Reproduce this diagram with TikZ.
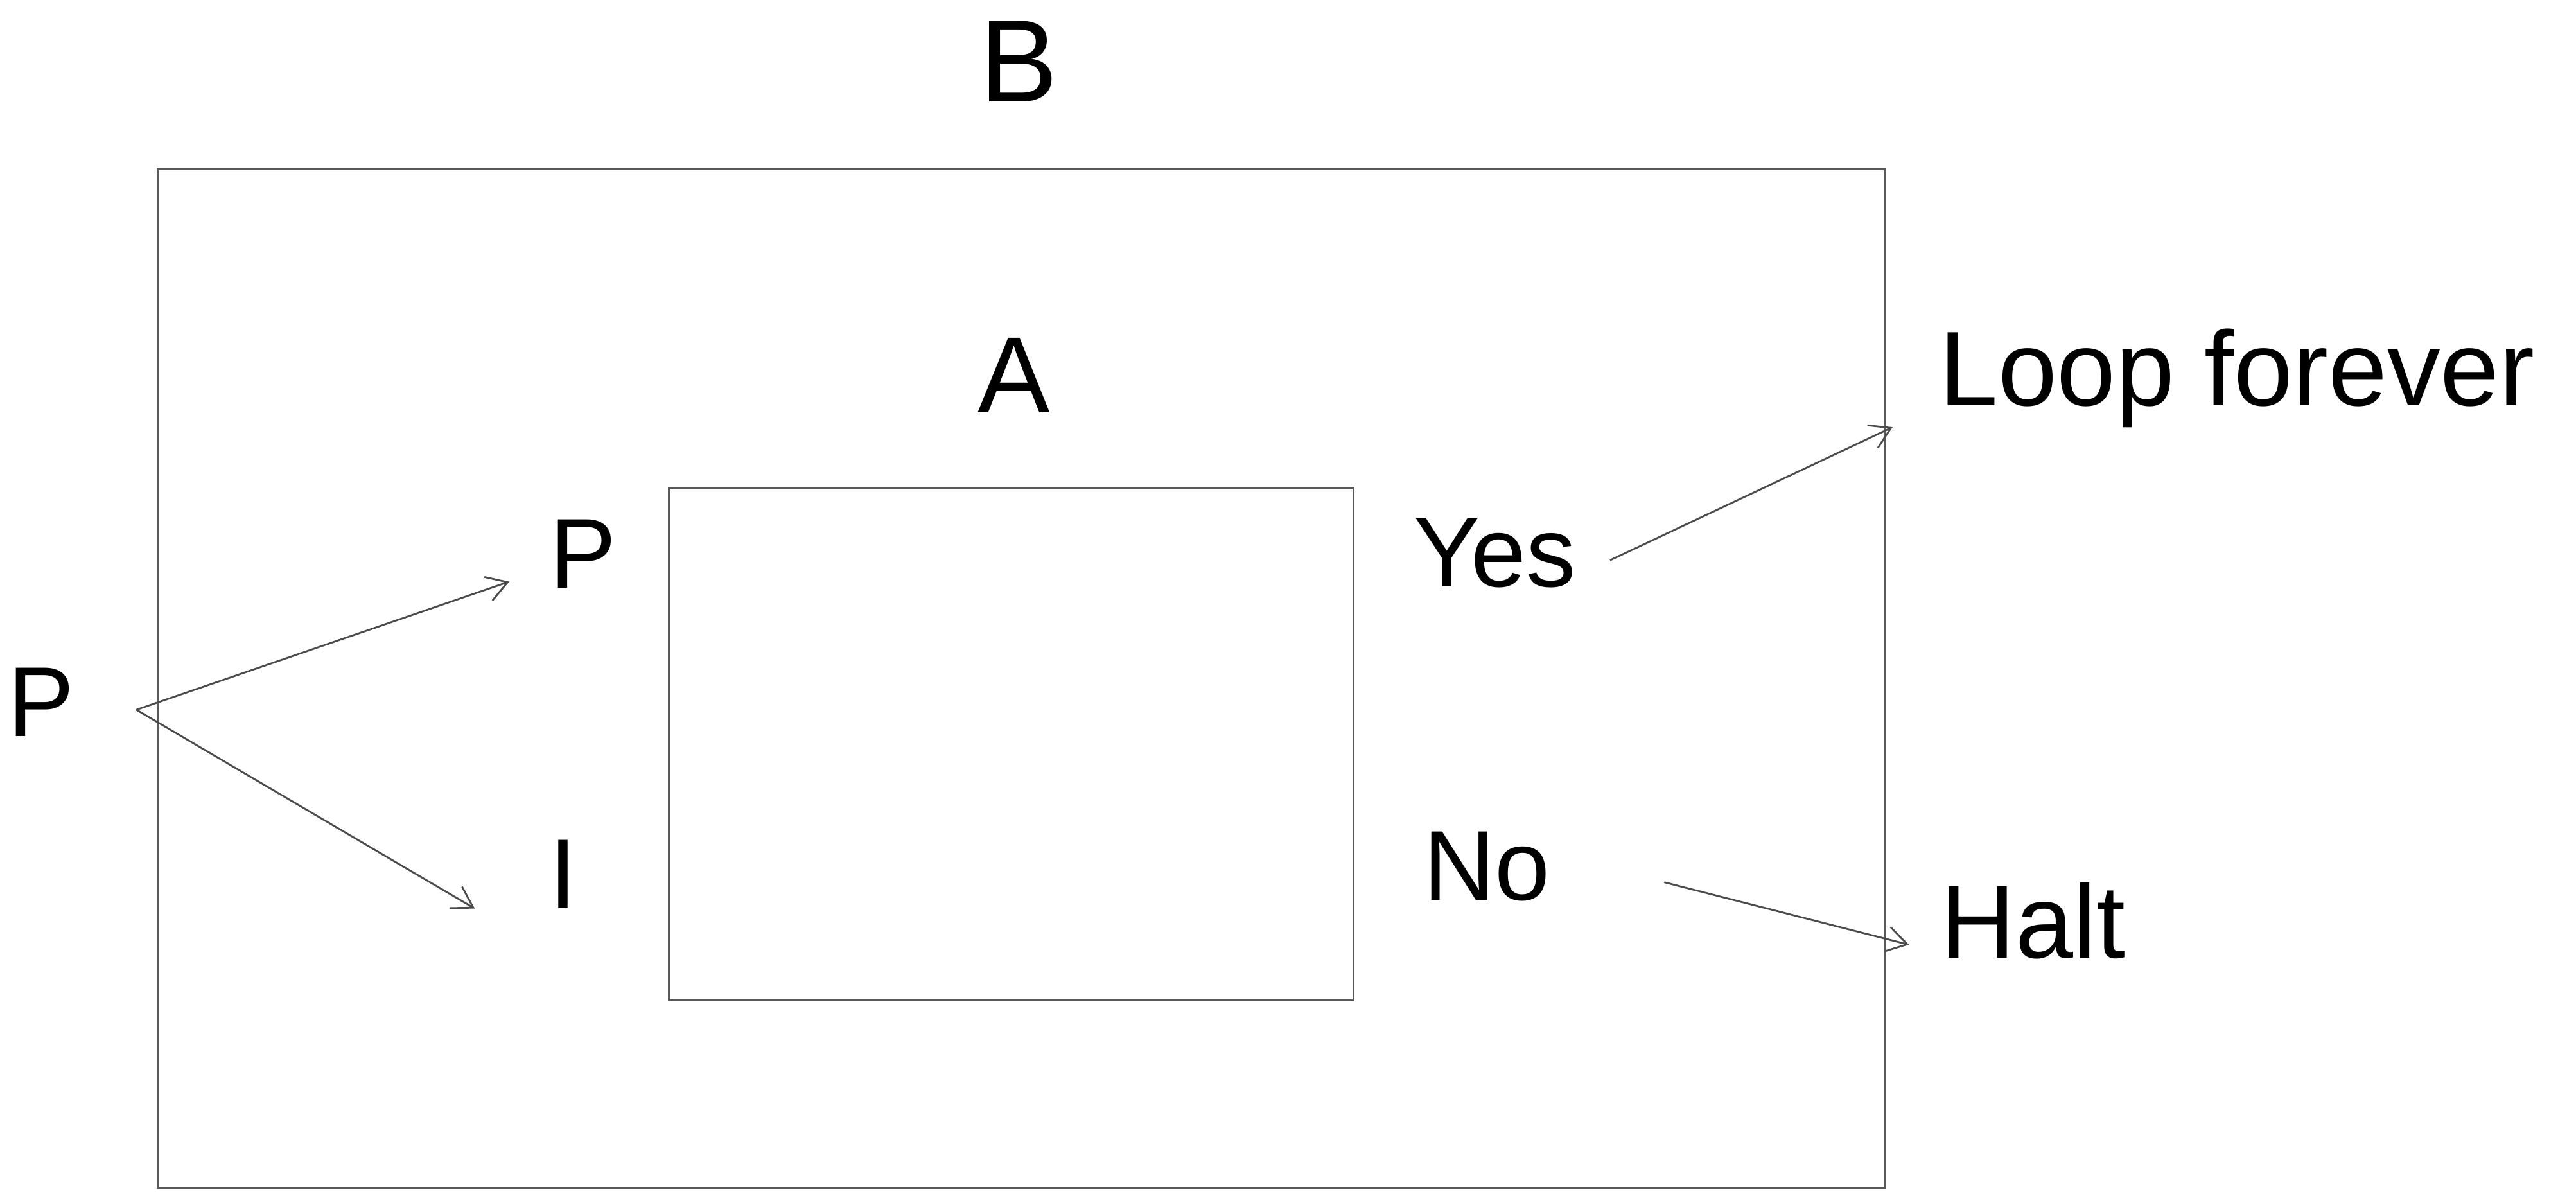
\documentclass[tikz,border=0pt]{standalone}
\usepackage{fontspec}
\setmainfont{Liberation Sans}
\usetikzlibrary{arrows.meta}
\begin{document}
\begin{tikzpicture}[x=0.02558cm,y=-0.02558cm,
  lbl/.style={inner sep=0pt,anchor=base,font=\fontsize{44}{50}\selectfont},
  big/.style={lbl,font=\fontsize{52}{58}\selectfont},
  mid/.style={lbl,font=\fontsize{48}{54}\selectfont},
  box/.style={draw=black!65,line width=0.9pt},
  arr/.style={draw=black!70,line width=0.8pt,-{Straight Barb[length=9pt,width=11pt]}}]
\useasboundingbox (0,0) rectangle (1568,726.7);
% boxes
\draw[box] (96,103) rectangle (1147,723);
\draw[box] (407,297) rectangle (824,609);
% labels
\node[big] (b) at (620,62) {B};
\node[mid] (a) at (617,251) {A};
\node[lbl] (pin) at (355,358) {P};
\node[lbl] (iin) at (343,553) {I};
\node[lbl] (pout) at (25,448) {P};
\node[lbl] (yes) at (910,357) {Yes};
\node[lbl] (no) at (905,548) {No};
\node[lbl,anchor=base west,font=\fontsize{47}{52}\selectfont] (loop) at (1180,247) {Loop forever};
\node[lbl,anchor=base west,font=\fontsize{46}{52}\selectfont] (halt) at (1181,583) {Halt};
% connector ends
\coordinate (s1) at (83,432);
\coordinate (e1) at (310,354);
\coordinate (e2) at (289,553);
\coordinate (s3) at (980,341);
\coordinate (e3) at (1152,260);
\coordinate (s4) at (1013,537);
\coordinate (e4) at (1162,575);
\draw[arr] (s1) -- (e1);
\draw[arr] (s1) -- (e2);
\draw[arr] (s3) -- (e3);
\draw[arr] (s4) -- (e4);
\end{tikzpicture}
\end{document}
